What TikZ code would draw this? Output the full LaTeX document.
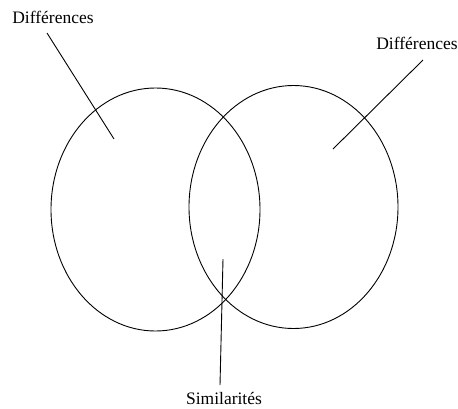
\documentclass[tikz,border=0pt]{standalone}
\usepackage{fontspec}
\setmainfont{Liberation Serif}
\usetikzlibrary{shapes.geometric}

\begin{document}
\begin{tikzpicture}[
    x=1pt, y=-1pt,
    set/.style={
        ellipse,
        draw=black,
        line width=0.9pt,
        minimum width=209pt,
        minimum height=243pt,
        inner sep=0pt
    },
    tag/.style={
        font=\fontsize{17.5}{20}\selectfont,
        inner sep=0pt
    },
    pointer/.style={
        draw=black,
        line width=0.9pt
    }
]
\useasboundingbox (0,0) rectangle (458,408);

% the two sets
\node[set] (left)  at (155.5,209.5) {};
\node[set] (right) at (293.5,207) {};

% labels
\node[tag] (difleft)  at (53,17)   {Différences};
\node[tag] (difright) at (417,43)  {Différences};
\node[tag] (simil)    at (224,398) {Similarités};

% ends of the pointers
\coordinate (difleftend)  at (47,33);
\coordinate (difleftin)   at (114,139);
\coordinate (difrightend) at (423,60);
\coordinate (difrightin)  at (333,149);
\coordinate (similend)    at (220,385);
\coordinate (similin)     at (223,259);

% pointers from labels into the sets
\draw[pointer] (difleftend) -- (difleftin);
\draw[pointer] (difrightend) -- (difrightin);
\draw[pointer] (similend) -- (similin);

\end{tikzpicture}
\end{document}
